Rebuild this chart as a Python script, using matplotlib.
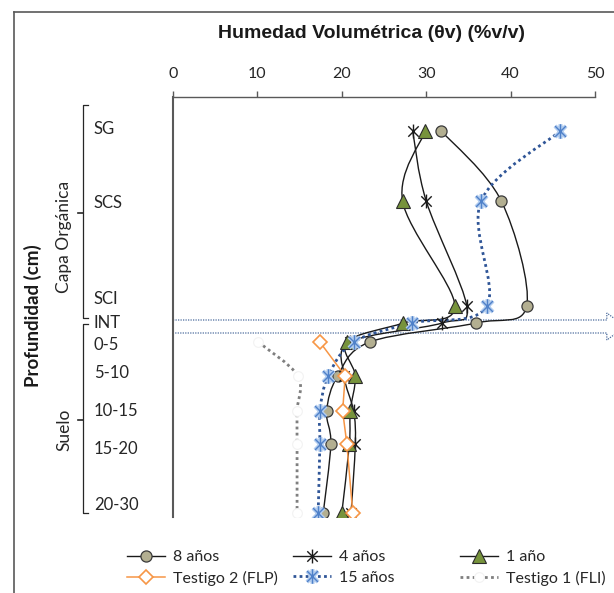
import matplotlib
matplotlib.use("Agg")
import matplotlib.pyplot as plt
import numpy as np
from matplotlib.path import Path
from matplotlib.patches import PathPatch, Polygon
from matplotlib.lines import Line2D
from matplotlib.transforms import blended_transform_factory
from matplotlib.legend_handler import HandlerTuple

# capas (eje vertical, escala de profundidad: 0 arriba)
capas = ["SG", "SCS", "SCI", "INT", "0-5", "5-10", "10-15", "15-20", "20-30"]
pos_capas = [3.4, 10.4, 20.9, 22.6, 24.5, 27.9, 31.4, 34.7, 41.6]
pos_etiquetas = [3.1, 10.4, 20.1, 22.5, 24.7, 27.5, 31.3, 35.0, 40.6]

# humedad volumetrica (%v/v) por capa
anos_8 = [31.8, 38.9, 41.9, 35.9, 23.3, 19.5, 18.2, 18.7, 17.8]
anos_4 = [28.4, 30.0, 34.8, 31.9, 21.0, 20.3, 21.4, 21.6, 21.1]
ano_1 = [29.9, 27.2, 33.4, 27.3, 20.6, 21.6, 21.0, 20.9, 20.0]
anos_15 = [45.9, 36.5, 37.2, 28.3, 21.4, 18.4, 17.4, 17.4, 17.2]
# testigos: solo suelo (0-5 ... 20-30)
testigo_2 = [17.4, 20.4, 20.1, 20.6, 21.3]
testigo_1 = [10.1, 14.8, 14.7, 14.7, 14.7]

FONT = "Lato"
W, H = 614, 593

fig = plt.figure(figsize=(W / 100, H / 100), dpi=100)
ax = fig.add_axes([173 / W, 1 - 517 / H, 422 / W, 420 / H])
ax.set_xlim(0, 50)
ax.set_ylim(42, 0)

# star marker like excel (X with a vertical bar)
estrella = Path([(0, -1), (0, 1), (-0.75, -0.75), (0.75, 0.75), (-0.75, 0.75), (0.75, -0.75)],
                [Path.MOVETO, Path.LINETO] * 3)


def curva(xs, ys, **kw):
    # smoothed line (bezier through the points, as in excel)
    pts = ax.transData.transform(np.column_stack([xs, ys]))
    n = len(pts)
    verts = [pts[0]]
    codes = [Path.MOVETO]
    for i in range(n - 1):
        p0 = pts[max(i - 1, 0)]
        p1 = pts[i]
        p2 = pts[i + 1]
        p3 = pts[min(i + 2, n - 1)]
        verts += [p1 + (p2 - p0) / 6, p2 - (p3 - p1) / 6, p2]
        codes += [Path.CURVE4] * 3
    verts = ax.transData.inverted().transform(np.array(verts))
    ax.add_patch(PathPatch(Path(verts, codes), fill=False, **kw))


suelo = pos_capas[4:]

# INT dotted block arrow
flecha = Polygon([(0, 22.3), (51.4, 22.3), (51.4, 21.6), (53.6, 22.95), (51.4, 24.3),
                  (51.4, 23.6), (0, 23.6)], closed=True, fill=False, edgecolor="#4a6a9c",
                 lw=0.9, ls=(0, (1, 1)), clip_on=False, zorder=1)
ax.add_patch(flecha)

negro = "#1a1a1a"
curva(testigo_1, suelo, edgecolor="#7f7f7f", lw=2, ls=(0, (1, 1.2)), zorder=2)
curva(anos_8, pos_capas, edgecolor=negro, lw=1.0, zorder=2)
curva(anos_4, pos_capas, edgecolor=negro, lw=1.0, zorder=2)
curva(ano_1, pos_capas, edgecolor=negro, lw=1.0, zorder=2)
ax.plot(testigo_2, suelo, color="#f79646", lw=1.1, zorder=2)
curva(anos_15, pos_capas, edgecolor="#2f5597", lw=2, ls=(0, (1, 1.2)), zorder=2)

kw8 = dict(marker="o", ms=8, mfc="#b3af91", mec="#3a3a3a", mew=0.9)
kw4 = dict(marker=estrella, ms=10, mec=negro, mew=1.0)
kw1 = dict(marker="^", ms=10, mfc="#77933c", mec="#2b2b2b", mew=0.8)
kwT2 = dict(marker="D", ms=7.5, mfc="white", mec="#f79646", mew=1.2)
kwT1 = dict(marker="o", ms=7, mfc="white", mec="#f2f2f2", mew=0.8)
kw15a = dict(marker=estrella, ms=10.5, mec="#b3cdef", mew=3.0)
kw15b = dict(marker=estrella, ms=10.5, mec="#4f81c9", mew=1.0)

ax.plot(testigo_1, suelo, ls="none", zorder=3, **kwT1)
ax.plot(anos_8, pos_capas, ls="none", zorder=3, **kw8)
ax.plot(anos_4, pos_capas, ls="none", zorder=3, **kw4)
ax.plot(ano_1, pos_capas, ls="none", zorder=3, **kw1)
ax.plot(testigo_2, suelo, ls="none", zorder=4, **kwT2)
ax.plot(anos_15, pos_capas, ls="none", zorder=5, **kw15a)
ax.plot(anos_15, pos_capas, ls="none", zorder=5, **kw15b)

# axes styling
for s in ["right", "bottom"]:
    ax.spines[s].set_visible(False)
ax.spines["top"].set_color("#595959")
ax.spines["top"].set_linewidth(1.0)
ax.spines["left"].set_color("#595959")
ax.spines["left"].set_linewidth(1.5)
ax.xaxis.tick_top()
ax.set_xticks([0, 10, 20, 30, 40, 50])
ax.tick_params(axis="x", direction="out", length=4, width=1, color="#595959",
               pad=7.5, labelsize=11.5, labelcolor="#262626")
ax.set_yticks(pos_etiquetas)
ax.set_yticklabels(capas)
ax.tick_params(axis="y", length=0, pad=57, labelsize=12, labelcolor="#262626")
for t in ax.get_yticklabels():
    t.set_ha("left")
for t in ax.get_xticklabels() + ax.get_yticklabels():
    t.set_fontfamily(FONT)

fig.text(371 / W, 1 - 34 / H, "Humedad Volumétrica (θv) (%v/v)", ha="center", va="center",
         fontsize=14, fontweight="bold", family="Liberation Sans", color="#1a1a1a")

# brackets for the layer groups
tr = blended_transform_factory(fig.transFigure, ax.transData)
xb, xh, xm = 83 / W, 88 / W, 78 / W
for top, bot, mid in [(0.8, 22.1, 11.6), (22.7, 41.6, 32.3)]:
    ax.plot([xh, xb, xb, xh], [top, top, bot, bot], color="#262626", lw=0.9,
            transform=tr, clip_on=False)
    ax.plot([xm, xb], [mid, mid], color="#262626", lw=1.2, transform=tr, clip_on=False)
ax.text(64 / W, 14.0, "Capa Orgánica", rotation=90, ha="center", va="center",
        transform=tr, fontsize=12.5, family=FONT, color="#262626")
ax.text(64 / W, 33.3, "Suelo", rotation=90, ha="center", va="center",
        transform=tr, fontsize=12.5, family=FONT, color="#262626")
fig.text(33 / W, 1 - 316 / H, "Profundidad (cm)", rotation=90, ha="center", va="center",
         fontsize=13.5, fontweight="bold", family=FONT, color="#1a1a1a")

# outer frame (cut at right and bottom)
fig.add_artist(Line2D([14 / W, 14 / W], [0, 1 - 12 / H], color="#595959", lw=1.2))
fig.add_artist(Line2D([14 / W, 1], [1 - 12 / H, 1 - 12 / H], color="#595959", lw=1.2))

# legend, three columns
h8 = Line2D([], [], color=negro, lw=1.0, **kw8)
h4 = Line2D([], [], color=negro, lw=1.0, **kw4)
h1 = Line2D([], [], color=negro, lw=1.0, **kw1)
hT2 = Line2D([], [], color="#f79646", lw=1.1, **kwT2)
h15 = (Line2D([], [], color="#2f5597", lw=2, ls=(0, (1, 1.2))),
       Line2D([], [], ls="none", **kw15a), Line2D([], [], ls="none", **kw15b))
hT1 = Line2D([], [], color="#7f7f7f", lw=2, ls=(0, (1, 1.2)), **kwT1)

columnas = [([h8, hT2], ["8 años", "Testigo 2 (FLP)"], 127),
            ([h4, h15], ["4 años", "15 años"], 293),
            ([h1, hT1], ["1 año", "Testigo 1 (FLI)"], 460)]
for hs, ls, x0 in columnas:
    leg = fig.legend(hs, ls, loc="upper left", bbox_to_anchor=(x0 / W, 1 - 550 / H),
                     frameon=False, borderpad=0, borderaxespad=0, handlelength=2.4,
                     handletextpad=0.5, labelspacing=0.42, numpoints=1,
                     prop={"family": FONT, "size": 11.5},
                     handler_map={tuple: HandlerTuple(ndivide=1, pad=0)})
    for t in leg.get_texts():
        t.set_color("#262626")

fig.savefig("out.png", dpi=100)
